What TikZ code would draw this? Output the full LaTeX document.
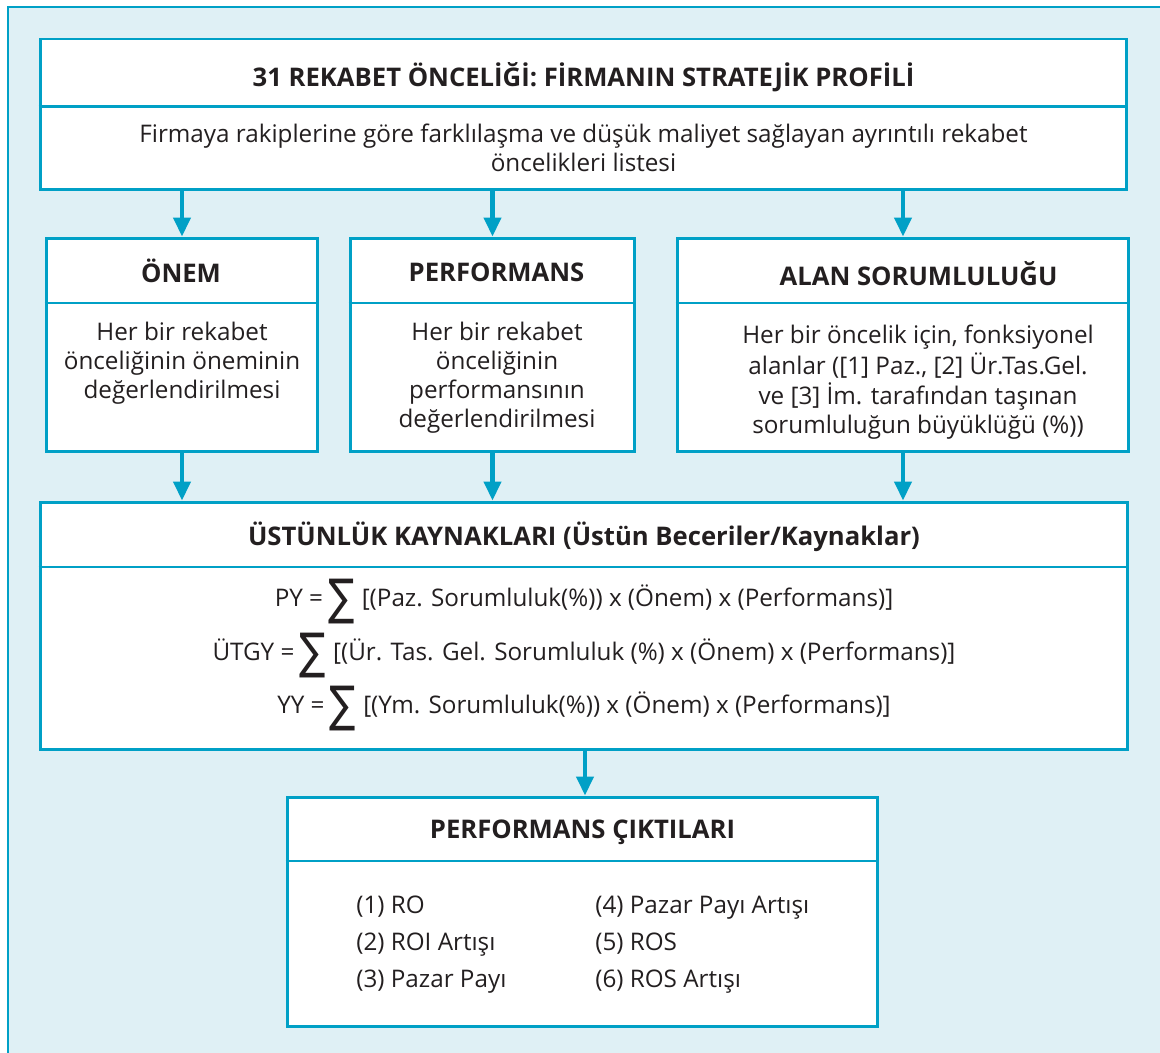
\documentclass[tikz,border=0pt]{standalone}
\usepackage{fontspec}
\setmainfont{Open Sans}
\newfontfamily\symfont{DejaVu Sans}
\usetikzlibrary{arrows.meta}
\definecolor{frame}{RGB}{0,160,198}
\definecolor{panel}{RGB}{223,240,245}
\definecolor{ink}{RGB}{35,31,32}
% centred block of lines whose reference point is the first baseline
\newcommand\lines[1]{\begin{tabular}[t]{@{}c@{}}#1\end{tabular}}
% large summation sign placed on the formula baseline
\newcommand\sumglyph{\raisebox{-9.6pt}{\resizebox{15pt}{25.5pt}{\symfont\raisebox{\depth}{∑}}}}
\begin{document}
\begin{tikzpicture}[x=0.02cm,y=-0.02cm,
  box/.style={draw=frame, line width=1.7pt, fill=white, inner sep=0pt},
  rule/.style={draw=frame, line width=1.7pt},
  flow/.style={draw=frame, line width=2.3pt, -{Triangle[width=0.34cm,length=0.38cm]}},
  head/.style={font=\bfseries\fontsize{14.6}{17}\selectfont, text=ink, inner sep=0pt, anchor=base},
  body/.style={font=\fontsize{13.8}{16.5}\selectfont, text=ink, inner sep=0pt, anchor=base},
]
\useasboundingbox (0,0) rectangle (1160,1053);
\fill[panel] (8,7) rectangle (1160,1053);
\draw[frame, line width=1pt] (8,1053) -- (8,7) -- (1160,7);

% boxes
\node[box, minimum width=21.74cm, minimum height=3.02cm] (top) at (583.5,114.5) {};
\node[box, minimum width=5.44cm, minimum height=4.28cm] (onem) at (182,345) {};
\node[box, minimum width=5.7cm, minimum height=4.28cm] (perf) at (492.5,345) {};
\node[box, minimum width=9.04cm, minimum height=4.28cm] (alan) at (903,345) {};
\node[box, minimum width=21.76cm, minimum height=4.96cm] (main) at (584,626) {};
\node[box, minimum width=11.82cm, minimum height=4.6cm] (out) at (582.5,912) {};

% header rules
\draw[rule] (top.west |- 0,107) -- (top.east |- 0,107);
\draw[rule] (onem.west |- 0,303) -- (onem.east |- 0,303);
\draw[rule] (perf.west |- 0,303) -- (perf.east |- 0,303);
\draw[rule] (alan.west |- 0,303) -- (alan.east |- 0,303);
\draw[rule] (main.west |- 0,567) -- (main.east |- 0,567);
\draw[rule] (out.west |- 0,861) -- (out.east |- 0,861);

% texts
\node[head] (tTop) at (583.5,87) {31 REKABET ÖNCELİĞİ: FİRMANIN STRATEJİK PROFİLİ};
\node[body] (dTop) at (583.5,143) {\lines{Firmaya rakiplerine göre farklılaşma ve düşük maliyet sağlayan ayrıntılı rekabet\\öncelikleri listesi}};

\node[head] (tOnem) at (181,283) {ÖNEM};
\node[body] (dOnem) at (182,341) {\lines{Her bir rekabet\\önceliğinin öneminin\\değerlendirilmesi}};
\node[head] (tPerf) at (496.5,282) {PERFORMANS};
\node[body] (dPerf) at (497,341) {\lines{Her bir rekabet\\önceliğinin\\performansının\\değerlendirilmesi}};
\node[head] (tAlan) at (918.5,286) {ALAN SORUMLULUĞU};
\node[body] (dAlan) at (918,344) {\lines{Her bir öncelik için, fonksiyonel\\alanlar ([1] Paz., [2] Ür.Tas.Gel.\\ve [3] İm. tarafından taşınan\\sorumluluğun büyüklüğü (\%))}};

\node[head] (tMain) at (584,546) {ÜSTÜNLÜK KAYNAKLARI (Üstün Beceriler/Kaynaklar)};
\node[body] (f1) at (584,607) {PY =\hspace{3pt}\sumglyph\hspace{4pt}[(Paz. Sorumluluk(\%)) x (Önem) x (Performans)]};
\node[body] (f2) at (584,661) {ÜTGY =\hspace{3pt}\sumglyph\hspace{4pt}[(Ür. Tas. Gel. Sorumluluk (\%) x (Önem) x (Performans)]};
\node[body] (f3) at (584,714) {YY =\hspace{3pt}\sumglyph\hspace{4pt}[(Ym. Sorumluluk(\%)) x (Önem) x (Performans)]};

\node[head] (tOut) at (582.5,839) {PERFORMANS ÇIKTILARI};
\node[body, anchor=base west] (o1) at (356,913) {(1) RO};
\node[body, anchor=base west] (o2) at (356,950) {(2) ROI Artışı};
\node[body, anchor=base west] (o3) at (356,987) {(3) Pazar Payı};
\node[body, anchor=base west] (o4) at (595,913) {(4) Pazar Payı Artışı};
\node[body, anchor=base west] (o5) at (595,950) {(5) ROS};
\node[body, anchor=base west] (o6) at (595,987) {(6) ROS Artışı};

% connectors
\draw[flow] (top.south -| onem.north) -- (onem.north);
\draw[flow] (top.south -| perf.north) -- (perf.north);
\draw[flow] (top.south -| alan.north) -- (alan.north);
\draw[flow] (onem.south) -- (onem.south |- main.north);
\draw[flow] (perf.south) -- (perf.south |- main.north);
\draw[flow] (alan.south) -- (alan.south |- main.north);
\draw[flow] (main.south -| 585,0) -- (out.north -| 585,0);
\end{tikzpicture}
\end{document}
